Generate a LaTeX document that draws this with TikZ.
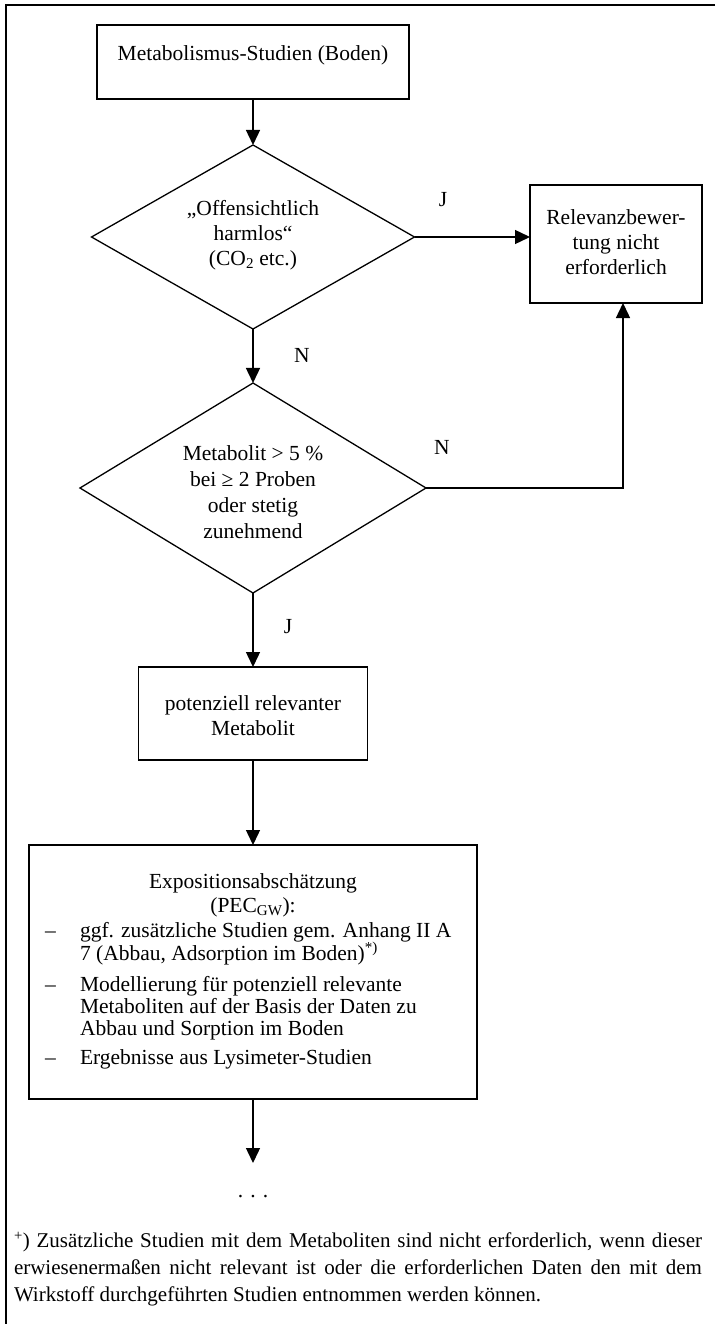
\documentclass[tikz,border=0pt]{standalone}
\usepackage{fontspec}
\setmainfont{Liberation Serif}
\usetikzlibrary{shapes.geometric,arrows.meta}
\begin{document}
\begin{tikzpicture}[x=1pt,y=-1pt,
  every node/.style={inner sep=0pt, outer sep=0pt},
  txt/.style={font=\fontsize{21.5}{25}\selectfont, align=center},
  itm/.style={font=\fontsize{21.5}{25}\selectfont, anchor=base west},
  lbl/.style={font=\fontsize{21.5}{25}\selectfont},
  boxnode/.style={draw, line width=1.4pt},
  dia/.style={draw, diamond, line width=1.3pt},
  conn/.style={line width=1.4pt, -{Triangle[length=15pt,width=14pt]}},
  framel/.style={line width=1.4pt}]
\useasboundingbox (0,0) rectangle (715,1324);
\draw[framel] (715,5) -- (6,5) -- (6,1324);

\node[boxnode, minimum width=312pt, minimum height=74pt] (b1) at (253,62) {};
\node[txt] (b1t) at (253,55) {Metabolismus-Studien (Boden)};

\node[dia, minimum width=323pt, minimum height=184pt] (d1) at (253,237) {};
\node[txt] (d1t) at (253,235) {„Offensichtlich\\harmlos“\\(CO\textsubscript{2} etc.)};

\node[boxnode, line width=2.8pt, minimum width=172pt, minimum height=118pt] (rb) at (616,244) {};
\node[txt] (rbt) at (616,242) {Relevanzbewer-\\tung nicht\\erforderlich};

\node[dia, minimum width=346pt, minimum height=210pt] (d2) at (253,488) {};
\node[txt, font=\fontsize{21.5}{26}\selectfont] (d2t) at (253,492) {Metabolit > 5 \%\\bei ≥ 2 Proben\\oder stetig\\zunehmend};

\node[boxnode, minimum width=229pt, minimum height=93pt] (b3) at (253,713.5) {};
\node[txt] (b3t) at (253,716) {potenziell relevanter\\Metabolit};

\node[boxnode, minimum width=448pt, minimum height=254pt] (b4) at (253,972) {};
\node[txt, font=\fontsize{21.5}{24}\selectfont] (b4t) at (253,895) {Expositionsabschätzung\\(PEC\textsubscript{GW}):};
\node[itm] (k1) at (45,937) {–};
\node[itm] (i1a) at (80,937) {ggf. zusätzliche Studien gem. Anhang II A};
\node[itm] (i1b) at (80,960) {7 (Abbau, Adsorption im Boden)\textsuperscript{*)}};
\node[itm] (k2) at (45,991) {–};
\node[itm] (i2a) at (80,991) {Modellierung für potenziell relevante};
\node[itm] (i2b) at (80,1013) {Metaboliten auf der Basis der Daten zu};
\node[itm] (i2c) at (80,1035) {Abbau und Sorption im Boden};
\node[itm] (k3) at (45,1064) {–};
\node[itm] (i3a) at (80,1064) {Ergebnisse aus Lysimeter-Studien};

\node[lbl] (lJ1) at (443,200) {J};
\node[lbl] (lN1) at (302,355) {N};
\node[lbl] (lN2) at (442,447) {N};
\node[lbl] (lJ2) at (288,627) {J};

\draw[conn] (b1) -- (d1);
\draw[conn] (d1.east) -- (d1.east -| rb.west);
\draw[conn] (d1) -- (d2);
\draw[conn] (d2.east) -| ([xshift=7pt]rb.south);
\draw[conn] (d2) -- (b3);
\draw[conn] (b3) -- (b4);
\coordinate (endp) at (253,1163);
\draw[conn] (b4) -- (endp);
\node[txt] (dots) at (253,1197) {. . .};

\node[anchor=north west, text width=688pt, align=justify, font=\fontsize{21}{27}\selectfont] (fn) at (14,1232) {\hyphenpenalty=10000 \exhyphenpenalty=10000 \textsuperscript{+}) Zusätzliche Studien mit dem Metaboliten sind nicht erforderlich, wenn dieser\linebreak erwiesenermaßen nicht relevant ist oder die erforderlichen Daten den mit dem\linebreak Wirkstoff durchgeführten Studien entnommen werden können.};
\end{tikzpicture}
\end{document}
